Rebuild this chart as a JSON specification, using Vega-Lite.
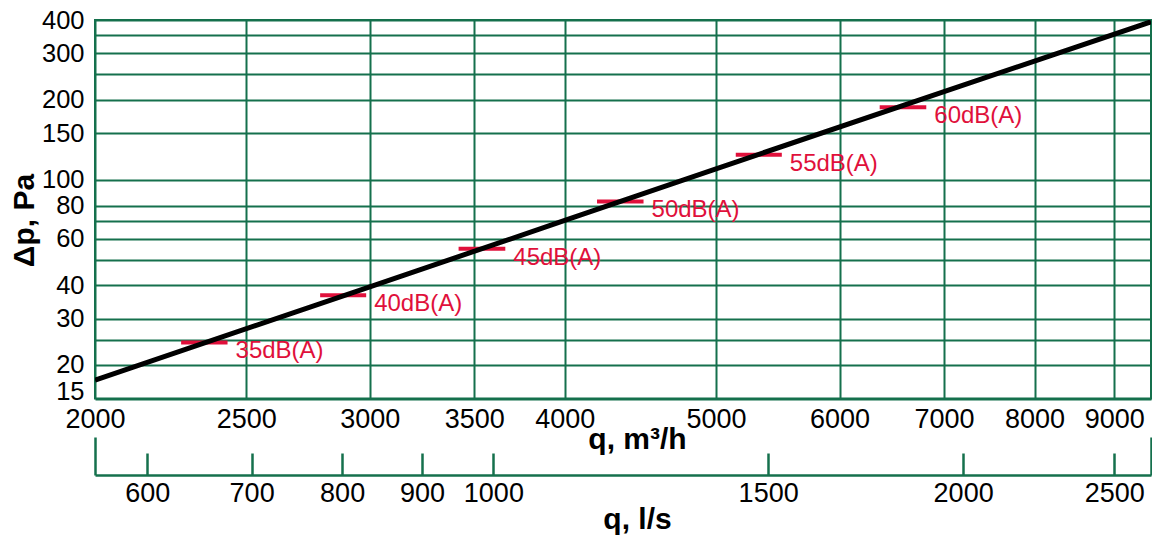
{
  "$schema": "https://vega.github.io/schema/vega-lite/v6.json",
  "width": 1056,
  "height": 378.5,
  "autosize": {"type": "none"},
  "padding": {"left": 95, "top": 20, "right": 1, "bottom": 137.5},
  "background": "white",
  "config": {
    "font": "Liberation Sans",
    "view": {"stroke": "#15704d", "strokeWidth": 2},
    "axis": {
      "labelFont": "Liberation Sans",
      "labelFontSize": 27,
      "labelColor": "#000000",
      "titleFont": "Liberation Sans",
      "titleFontSize": 30,
      "titleFontWeight": "bold",
      "titleColor": "#000000",
      "gridColor": "#15704d",
      "gridWidth": 2,
      "gridOpacity": 1,
      "labelOverlap": false,
      "labelFlush": false
    }
  },
  "datasets": {
    "curve": [
      {"q_m3h": 2000, "q_ls": 555.6, "dp": 17.6},
      {"q_m3h": 3000, "q_ls": 833.3, "dp": 39.5},
      {"q_m3h": 4000, "q_ls": 1111.1, "dp": 70.3},
      {"q_m3h": 5000, "q_ls": 1388.9, "dp": 110},
      {"q_m3h": 7000, "q_ls": 1944.4, "dp": 215},
      {"q_m3h": 9500, "q_ls": 2638.9, "dp": 394}
    ],
    "noise": [
      {"level": "35dB(A)", "q1": 2271, "q2": 2432, "dp": 24.4},
      {"level": "40dB(A)", "q1": 2788, "q2": 2984, "dp": 36.7},
      {"level": "45dB(A)", "q1": 3420, "q2": 3664, "dp": 55.0},
      {"level": "50dB(A)", "q1": 4195, "q2": 4493, "dp": 82.9},
      {"level": "55dB(A)", "q1": 5148, "q2": 5510, "dp": 124.3},
      {"level": "60dB(A)", "q1": 6366, "q2": 6819, "dp": 187.6}
    ]
  },
  "layer": [
    {
      "data": {"name": "noise"},
      "layer": [
        {
          "mark": {"type": "rule", "color": "#e0103b", "strokeWidth": 4},
          "encoding": {
            "x": {
              "field": "q1",
              "type": "quantitative",
              "scale": {"type": "log", "domain": [2000, 9500], "nice": false},
              "axis": {
                "orient": "bottom",
                "values": [2000, 2500, 3000, 3500, 4000, 5000, 6000, 7000, 8000, 9000],
                "labelExpr": "format(datum.value, 'd')",
                "grid": true,
                "ticks": false,
                "domain": false,
                "labelPadding": 8,
                "title": "q, m³/h",
                "titleBaseline": "alphabetic",
                "titleX": 542,
                "titleY": 50
              }
            },
            "x2": {"field": "q2"},
            "y": {
              "field": "dp",
              "type": "quantitative",
              "scale": {"type": "log", "domain": [15, 400], "nice": false},
              "axis": {
                "values": [15, 20, 25, 30, 40, 50, 60, 70, 80, 100, 150, 200, 250, 300, 350, 400],
                "labelExpr": "indexof([15, 20, 30, 40, 60, 80, 100, 150, 200, 300, 400], datum.value) >= 0 ? format(datum.value, 'd') : ''",
                "labelFontSize": 25.5,
                "labelOffset": {
                  "condition": [
                    {"test": "datum.value == 15", "value": -7},
                    {"test": "datum.value == 20", "value": -1}
                  ],
                  "value": 0
                },
                "grid": true,
                "ticks": false,
                "domain": false,
                "labelPadding": 11,
                "title": "Δp, Pa",
                "titleBaseline": "alphabetic",
                "titleAngle": -90,
                "titleX": -62,
                "titleY": 200
              }
            }
          }
        },
        {
          "mark": {"type": "text", "color": "#e0103b", "fontSize": 24, "font": "Liberation Sans", "align": "left", "baseline": "alphabetic", "dx": 8, "dy": 16},
          "encoding": {
            "x": {"field": "q2", "type": "quantitative"},
            "y": {"field": "dp", "type": "quantitative"},
            "text": {"field": "level"}
          }
        }
      ]
    },
    {
      "data": {"name": "curve"},
      "mark": {"type": "line", "color": "#000000", "strokeWidth": 5, "clip": true},
      "encoding": {
        "x": {
          "field": "q_ls",
          "type": "quantitative",
          "scale": {"type": "log", "domain": [555.5556, 2638.8889], "nice": false},
          "axis": {
            "orient": "bottom",
            "offset": 76.5,
            "values": [555.5556, 600, 700, 800, 900, 1000, 1500, 2000, 2500, 2638.8889],
            "labelExpr": "datum.value > 590 && datum.value < 2600 ? format(datum.value, 'd') : ''",
            "grid": false,
            "ticks": true,
            "tickSize": {"condition": {"test": "datum.value < 590 || datum.value > 2600", "value": -38}, "value": -22},
            "tickColor": "#15704d",
            "tickWidth": 2.5,
            "domain": true,
            "domainColor": "#15704d",
            "domainWidth": 2.5,
            "labelPadding": 27,
            "title": "q, l/s",
            "titleBaseline": "alphabetic",
            "titleX": 542,
            "titleY": 53
          }
        },
        "y": {"field": "dp", "type": "quantitative"}
      }
    }
  ],
  "resolve": {"scale": {"x": "independent"}, "axis": {"x": "independent"}}
}
